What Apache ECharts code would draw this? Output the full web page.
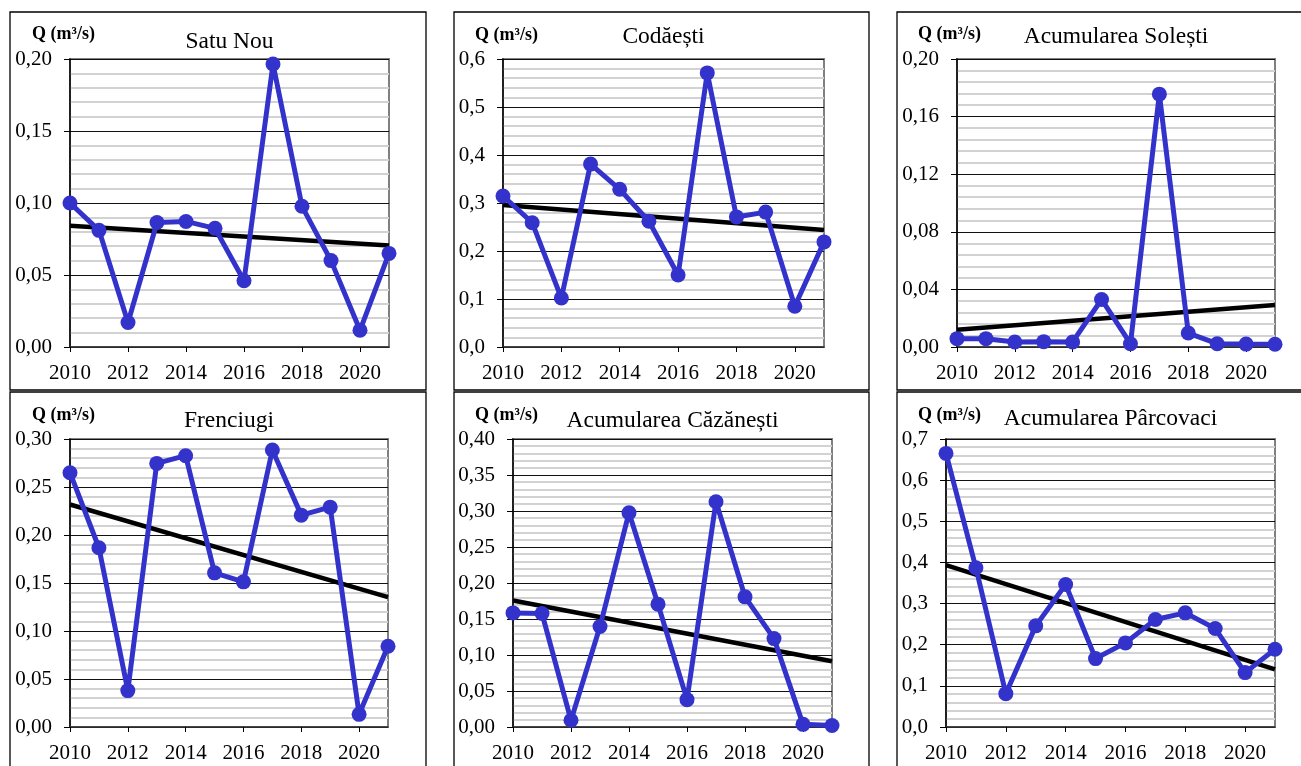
<!DOCTYPE html>
<html>
<head>
<meta charset="utf-8">
<script src="https://cdn.jsdelivr.net/npm/echarts@6/dist/echarts.min.js"></script>
<style>
  html, body { margin: 0; padding: 0; background: #fff; }
  #main { width: 1301px; height: 766px; }
</style>
</head>
<body>
<div id="main"></div>
<script>
// date (debite medii anuale, m3/s)
var years = [2010, 2011, 2012, 2013, 2014, 2015, 2016, 2017, 2018, 2019, 2020, 2021];
var yearTicks = [2010, 2012, 2014, 2016, 2018, 2020];

var satuNou = [0.100, 0.081, 0.017, 0.0865, 0.0872, 0.0824, 0.046, 0.1965, 0.0977, 0.060, 0.0116, 0.065];
var satuNouTrend = [0.0842, 0.0705];

var codaesti = [0.3146, 0.259, 0.102, 0.381, 0.3285, 0.262, 0.150, 0.571, 0.271, 0.281, 0.085, 0.219];
var codaestiTrend = [0.296, 0.2436];

var solesti = [0.0058, 0.0058, 0.0035, 0.0037, 0.0035, 0.033, 0.0023, 0.1756, 0.0097, 0.0023, 0.002, 0.0019];
var solestiTrend = [0.012, 0.0292];

var frenciugi = [0.2649, 0.1867, 0.0379, 0.2746, 0.2826, 0.1606, 0.1512, 0.2885, 0.2207, 0.229, 0.0132, 0.0841];
var frenciugiTrend = [0.2318, 0.1352];

var cazanesti = [0.1585, 0.1576, 0.0093, 0.1395, 0.2976, 0.1706, 0.038, 0.3129, 0.1808, 0.1228, 0.0037, 0.002];
var cazanestiTrend = [0.1757, 0.0913];

var parcovaci = [0.665, 0.387, 0.081, 0.2458, 0.3463, 0.1663, 0.2044, 0.2612, 0.2774, 0.2393, 0.1322, 0.189];
var parcovaciTrend = [0.3934, 0.1403];

var titles = ['Satu Nou', 'Codăești', 'Acumularea Solești', 'Frenciugi', 'Acumularea Căzănești', 'Acumularea Pârcovaci'];
var yMaxes = [0.20, 0.6, 0.20, 0.30, 0.40, 0.7];
var ySteps = [0.05, 0.1, 0.04, 0.05, 0.05, 0.1];
var yDecimals = [2, 1, 2, 2, 2, 1];

var allValues = [satuNou, codaesti, solesti, frenciugi, cazanesti, parcovaci];
var allTrends = [satuNouTrend, codaestiTrend, solestiTrend, frenciugiTrend, cazanestiTrend, parcovaciTrend];

// pozitii (pixeli)
var grids = [
  {left: 70, top: 59, width: 319, height: 288},
  {left: 503, top: 59, width: 321, height: 288},
  {left: 957, top: 59, width: 318, height: 288},
  {left: 70, top: 439, width: 318, height: 288},
  {left: 513, top: 439, width: 319, height: 288},
  {left: 946, top: 439, width: 329, height: 288}
];
var titleY = [42, 37, 37, 421, 421, 419];
var qPos = [[32, 34], [475, 35], [918, 34], [32, 415], [475, 415], [918, 415]];
var boxes = [
  [10, 12, 416, 378], [454, 12, 415, 378], [897, 12, 420, 378],
  [10, 392, 416, 400], [454, 392, 415, 400], [897, 392, 420, 400]
];

var FONT = 'Liberation Serif';
var BLUE = '#3333cc';

var myChart = echarts.init(document.getElementById('main'));

var option = {
  backgroundColor: '#fff',
  animation: false,
  grid: [], xAxis: [], yAxis: [], series: [], graphic: []
};

boxes.forEach(function (b) {
  option.graphic.push({
    type: 'rect', silent: true, z: -10,
    shape: {x: b[0], y: b[1], width: b[2], height: b[3]},
    style: {fill: '#fff', stroke: '#000', lineWidth: 1.3}
  });
});

for (var i = 0; i < 6; i++) {
  var g = grids[i];
  option.grid.push({
    left: g.left, top: g.top, width: g.width, height: g.height,
    show: true, backgroundColor: '#fff', borderColor: '#808080', borderWidth: 2
  });
  option.xAxis.push({
    type: 'value', gridIndex: i, min: 2010, max: 2021, interval: 1,
    axisLine: {show: true, onZero: false, lineStyle: {color: '#333', width: 1.5}},
    axisTick: {show: true, length: 5, customValues: yearTicks, lineStyle: {color: '#000', width: 1}},
    axisLabel: {
      customValues: yearTicks, color: '#000', fontFamily: FONT, fontSize: 21, margin: 16,
      formatter: function (v) { return String(v); }
    },
    splitLine: {show: false}
  });
  (function (dec) {
    option.yAxis.push({
      type: 'value', gridIndex: i, min: 0, max: yMaxes[i], interval: ySteps[i],
      axisLine: {show: true, lineStyle: {color: '#000', width: 1.5}},
      axisTick: {show: true, length: 6, lineStyle: {color: '#000'}},
      axisLabel: {
        color: '#000', fontFamily: FONT, fontSize: 21, margin: 18,
        formatter: function (v) { return v.toFixed(dec).replace('.', ','); }
      },
      splitLine: {show: true, lineStyle: {color: '#111', width: 1}},
      minorTick: {show: false, splitNumber: 5},
      minorSplitLine: {show: true, lineStyle: {color: '#d2d2d2', width: 2}}
    });
  })(yDecimals[i]);

  option.series.push({
    type: 'line', xAxisIndex: i, yAxisIndex: i, z: 3,
    data: [[years[0], allTrends[i][0]], [years[years.length - 1], allTrends[i][1]]],
    symbol: 'none', lineStyle: {color: '#000', width: 4.5}
  });
  option.series.push({
    type: 'line', xAxisIndex: i, yAxisIndex: i, z: 4,
    data: years.map(function (y, k) { return [y, allValues[i][k]]; }),
    symbol: 'circle', symbolSize: 15,
    lineStyle: {color: BLUE, width: 5},
    itemStyle: {color: BLUE}
  });

  option.graphic.push({
    type: 'text', silent: true, z: 10,
    x: g.left + g.width / 2, y: titleY[i],
    style: {text: titles[i], fill: '#000', font: '23.5px "' + FONT + '"', textAlign: 'center', textVerticalAlign: 'middle'}
  });
  option.graphic.push({
    type: 'text', silent: true, z: 10,
    x: qPos[i][0], y: qPos[i][1],
    style: {text: 'Q (m³/s)', fill: '#000', font: 'bold 18px "' + FONT + '"', textAlign: 'left', textVerticalAlign: 'middle'}
  });
}

myChart.setOption(option);
</script>
</body>
</html>
